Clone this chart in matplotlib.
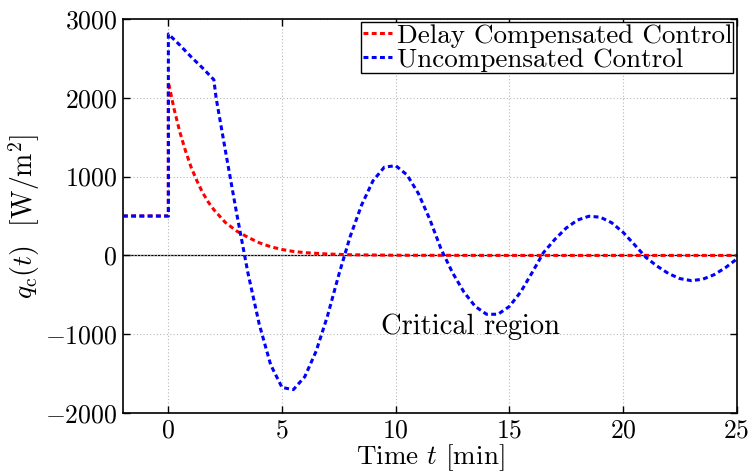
import matplotlib
matplotlib.use('Agg')
import matplotlib.pyplot as plt

plt.rcParams['font.family'] = ['cmr10', 'DejaVu Serif']
plt.rcParams['mathtext.fontset'] = 'cm'
plt.rcParams['axes.formatter.use_mathtext'] = True
plt.rcParams['axes.unicode_minus'] = True

# Delay compensated control
t_comp = [-2, 0, 0, 0.25, 0.5, 0.75, 1.0, 1.25, 1.5, 1.75, 2.0, 2.5, 3.0,
          3.5, 4.0, 4.5, 5.0, 5.5, 6.0, 7.0, 8.0, 10.0, 15.0, 25.0]
q_comp = [500, 500, 2200, 1860, 1570, 1330, 1120, 950, 800, 680, 580, 420,
          310, 230, 160, 110, 75, 50, 35, 18, 8, 2, 0, 0]

# Uncompensated control
t_unc = [-2, 0, 0, 0.5, 1.0, 1.5, 2.0, 2.1, 2.5, 3.0, 3.5, 4.0, 4.5, 5.0,
         5.5, 6.0, 6.5, 7.0, 7.5, 8.0, 8.5, 9.0, 9.5, 10.0, 10.5, 11.0,
         11.5, 12.0, 12.5, 13.0, 13.5, 14.0, 14.5, 15.0, 15.5, 16.0, 16.5,
         17.0, 17.5, 18.0, 18.5, 19.0, 19.5, 20.0, 20.5, 21.0, 21.5, 22.0,
         22.5, 23.0, 23.5, 24.0, 24.5, 25.0]
q_unc = [500, 500, 2810, 2670, 2520, 2380, 2230, 2000, 1344, 540, -222,
         -876, -1388, -1676, -1703, -1540, -1216, -769, -243, 241, 639, 946,
         1120, 1139, 1021, 785, 458, 78, -219, -464, -648, -747, -747, -648,
         -464, -219, 35, 203, 347, 449, 497, 485, 415, 294, 138, -23, -136,
         -230, -294, -320, -303, -246, -157, -47]

x_ticks = [0, 5, 10, 15, 20, 25]
y_ticks = [-2000, -1000, 0, 1000, 2000, 3000]

fig = plt.figure(figsize=(7.54, 4.75), dpi=100)
ax = fig.add_axes([0.163, 0.1305, 0.814, 0.8295])

dash = (1.6, 1.1)
ax.axhline(0, color='black', lw=0.9, zorder=1)
ax.plot(t_comp, q_comp, color='red', lw=2.2, linestyle=(0, dash),
        label='Delay Compensated Control', zorder=2)
ax.plot(t_unc, q_unc, color='blue', lw=2.2, linestyle=(0, dash),
        label='Uncompensated Control', zorder=3)

ax.set_xlim(-2, 25)
ax.set_ylim(-2000, 3000)
ax.set_xticks(x_ticks)
ax.set_yticks(y_ticks)
ax.grid(True, linestyle=(0, (1, 2)), color='#b8b8b8', lw=0.8)
ax.tick_params(direction='in', top=True, right=True, length=5,
               labelsize=18.5, width=1, pad=4)
for sp in ax.spines.values():
    sp.set_linewidth(1.2)

ax.set_xlabel('Time $t$ [min]', fontsize=19.5, labelpad=0)
ax.set_ylabel(r'$q_{\mathrm{c}}(t)$  [W/m$^2$]', fontsize=20, labelpad=2)

ax.text(9.35, -900, 'Critical region', fontsize=20.5, va='center', ha='left')

leg = ax.legend(loc='upper right', fontsize=19.5, frameon=True, fancybox=False,
                edgecolor='black', framealpha=1, handlelength=1.1,
                handletextpad=0.15, borderpad=0.05, labelspacing=0.0,
                borderaxespad=0.12)
leg.get_frame().set_linewidth(1.0)

fig.savefig('out.png', dpi=100)
